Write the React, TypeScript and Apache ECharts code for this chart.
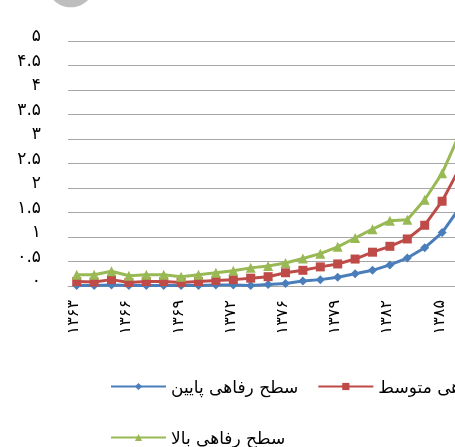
import React, { useEffect, useRef } from "react";
import * as echarts from "echarts";

// Years on the category axis (solar hijri)
const years = [
  1363, 1364, 1365, 1366, 1367, 1368, 1369, 1370, 1371, 1372,
  1374, 1375, 1376, 1377, 1378, 1379, 1380, 1381, 1382, 1383, 1384, 1385, 1386,
];

const lowWelfare = [
  0.01, 0.01, 0.02, 0.01, 0.01, 0.01, 0.01, 0.01, 0.02, 0.02,
  0.01, 0.03, 0.05, 0.1, 0.13, 0.18, 0.25, 0.32, 0.43, 0.57, 0.78, 1.09, 1.59,
];
const midWelfare = [
  0.09, 0.08, 0.13, 0.07, 0.09, 0.09, 0.07, 0.09, 0.11, 0.13,
  0.16, 0.19, 0.27, 0.32, 0.39, 0.45, 0.55, 0.69, 0.81, 0.96, 1.24, 1.73, 2.4,
];
const highWelfare = [
  0.23, 0.23, 0.3, 0.21, 0.23, 0.23, 0.19, 0.23, 0.27, 0.31,
  0.37, 0.41, 0.47, 0.56, 0.66, 0.8, 0.98, 1.16, 1.33, 1.35, 1.76, 2.3, 3.1,
];

const seriesNames = ["سطح رفاهی پایین", "سطح رفاهی متوسط", "سطح رفاهی بالا"];
const colors = ["#4A7EBB", "#BE4B48", "#98B954"];
const symbols = ["diamond", "rect", "triangle"];
const symbolSizes = [9, 9, 10];

const FONT = "DejaVu Sans";

const faDigits = "۰۱۲۳۴۵۶۷۸۹";
const toPersian = (s: string) => s.replace(/[0-9]/g, (d) => faDigits[Number(d)]);

export default function App() {
  const ref = useRef<HTMLDivElement>(null);

  useEffect(() => {
    if (!ref.current) return;
    const chart = echarts.init(ref.current, undefined, { renderer: "svg" });
    const values = [lowWelfare, midWelfare, highWelfare];
    const legendText = { fontFamily: FONT, fontSize: 17, color: "#000" };

    chart.setOption({
      animation: false,
      graphic: [
        {
          type: "circle",
          shape: { cx: 70.8, cy: -17.3, r: 24.6 },
          style: { fill: "#BEBEBE" },
          silent: true,
        },
      ],
      // plot area runs past the right edge of the canvas
      grid: {
        left: 68,
        top: 41,
        width: 400.2,
        height: 245,
        containLabel: false,
        outerBoundsMode: "none",
      },
      legend: [
        {
          data: [seriesNames[0], seriesNames[1]],
          left: 105,
          top: 373,
          width: 1000,
          itemWidth: 55,
          itemHeight: 9,
          itemGap: 19,
          textStyle: legendText,
        },
        {
          data: [seriesNames[2]],
          left: 105,
          top: 424,
          itemWidth: 55,
          itemHeight: 9,
          textStyle: legendText,
        },
      ],
      xAxis: {
        type: "category",
        data: years.map(String),
        boundaryGap: true,
        axisLine: { show: true, lineStyle: { color: "#A6A6A6", width: 1 } },
        axisTick: { show: false },
        axisLabel: {
          interval: 2,
          rotate: 90,
          margin: 14,
          verticalAlign: "bottom",
          lineHeight: 8,
          fontFamily: FONT,
          fontSize: 16,
          color: "#000",
          formatter: (v: string) => toPersian(v),
        },
      },
      yAxis: {
        type: "value",
        min: 0,
        max: 5,
        interval: 0.5,
        axisLine: { show: false },
        axisTick: { show: false },
        splitLine: { lineStyle: { color: "#A6A6A6", width: 1 } },
        axisLabel: {
          margin: 27,
          verticalAlign: "bottom",
          lineHeight: 12,
          fontFamily: FONT,
          fontSize: 17,
          color: "#000",
          formatter: (v: number) => toPersian(String(v)),
        },
      },
      series: values.map((data, i) => ({
        name: seriesNames[i],
        type: "line",
        data,
        symbol: symbols[i],
        symbolSize: symbolSizes[i],
        showAllSymbol: true,
        color: colors[i],
        lineStyle: { width: 3, color: colors[i] },
        itemStyle: { color: colors[i] },
      })),
    });

    return () => chart.dispose();
  }, []);

  return (
    <div
      ref={ref}
      style={{ position: "fixed", left: 0, top: 0, width: 455, height: 447 }}
    />
  );
}
